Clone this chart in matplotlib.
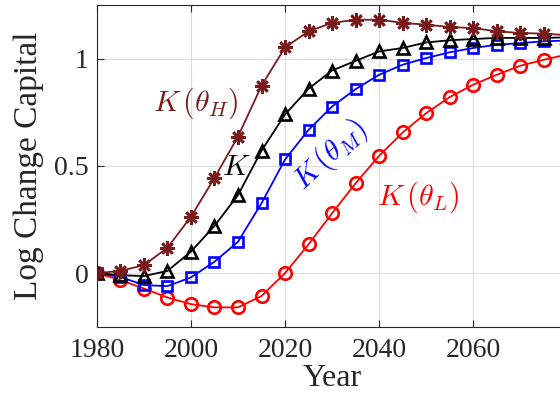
import numpy as np
import matplotlib
matplotlib.use('Agg')
import matplotlib.pyplot as plt

years = np.arange(1980, 2081, 5)

k_high = [0.0, 0.01, 0.037, 0.118, 0.263, 0.444, 0.637, 0.874, 1.053, 1.128, 1.167,
          1.182, 1.182, 1.167, 1.159, 1.148, 1.143, 1.128, 1.12, 1.117, 1.11]
k_all = [0.0, -0.01, -0.014, 0.01, 0.1, 0.22, 0.364, 0.571, 0.74, 0.86, 0.945,
         0.99, 1.034, 1.05, 1.076, 1.086, 1.092, 1.097, 1.097, 1.097, 1.1]
k_mid = [0.0, -0.018, -0.056, -0.061, -0.02, 0.053, 0.146, 0.326, 0.53, 0.668, 0.777,
         0.858, 0.925, 0.972, 1.003, 1.03, 1.05, 1.065, 1.073, 1.081, 1.085]
k_low = [0.0, -0.033, -0.072, -0.114, -0.145, -0.16, -0.16, -0.107, 0.0, 0.134, 0.279,
         0.419, 0.547, 0.656, 0.746, 0.821, 0.879, 0.925, 0.967, 0.995, 1.02]

darkred = '#7b1a1a'

plt.rcParams['font.family'] = 'serif'
plt.rcParams['font.serif'] = ['Liberation Serif', 'DejaVu Serif']
plt.rcParams['mathtext.fontset'] = 'cm'
plt.rcParams['font.size'] = 20

fig = plt.figure(figsize=(5.6, 3.95), dpi=100)
ax = fig.add_axes([0.173, 0.173, 0.84, 0.814])

ax.plot(years, k_low, '-', color='#ff0000', lw=1.3, marker='o', ms=9, mfc='none', mew=1.9)
ax.plot(years, k_mid, '-', color='#0000ff', lw=1.3, marker='s', ms=7, mfc='none', mew=1.9)
ax.plot(years, k_all, '-', color='black', lw=1.3, marker='^', ms=8.5, mfc='none', mew=1.9)
ax.plot(years, k_high, '-', color=darkred, lw=1.3, marker=(8, 2, 0), ms=10.5, mew=1.9)

ax.text(2001, 0.79, r'$K\,(\theta_H)$', color=darkred, ha='center', va='center', fontsize=21.5)
ax.text(2009.6, 0.49, r'$K$', color='black', ha='center', va='center', fontsize=21.5)
ax.text(2029.6, 0.55, r'$K\,(\theta_M)$', color='#0000ff', ha='center', va='center',
        fontsize=21.5, rotation=43)
ax.text(2048.3, 0.355, r'$K\,(\theta_L)$', color='#ff0000', ha='center', va='center', fontsize=21.5)

ax.set_xlim(1980, 2080)
ax.set_ylim(-0.25, 1.25)
ax.set_xticks([1980, 2000, 2020, 2040, 2060])
ax.set_yticks([0, 0.5, 1])
ax.set_yticklabels(['0', '0.5', '1'])
ax.grid(True, color='#dddddd', lw=0.8)
ax.set_axisbelow(True)
ax.tick_params(direction='in', top=True, right=True, colors='#262626', length=5, pad=6)
ax.tick_params(axis='x', pad=8)
for s in ax.spines.values():
    s.set_color('#262626')
    s.set_linewidth(0.8)
ax.set_xlabel('Year', color='#262626', fontsize=23, labelpad=1)
ax.set_ylabel('Log Change Capital', color='#262626', fontsize=24, labelpad=7)

fig.savefig('out.png', dpi=100)
